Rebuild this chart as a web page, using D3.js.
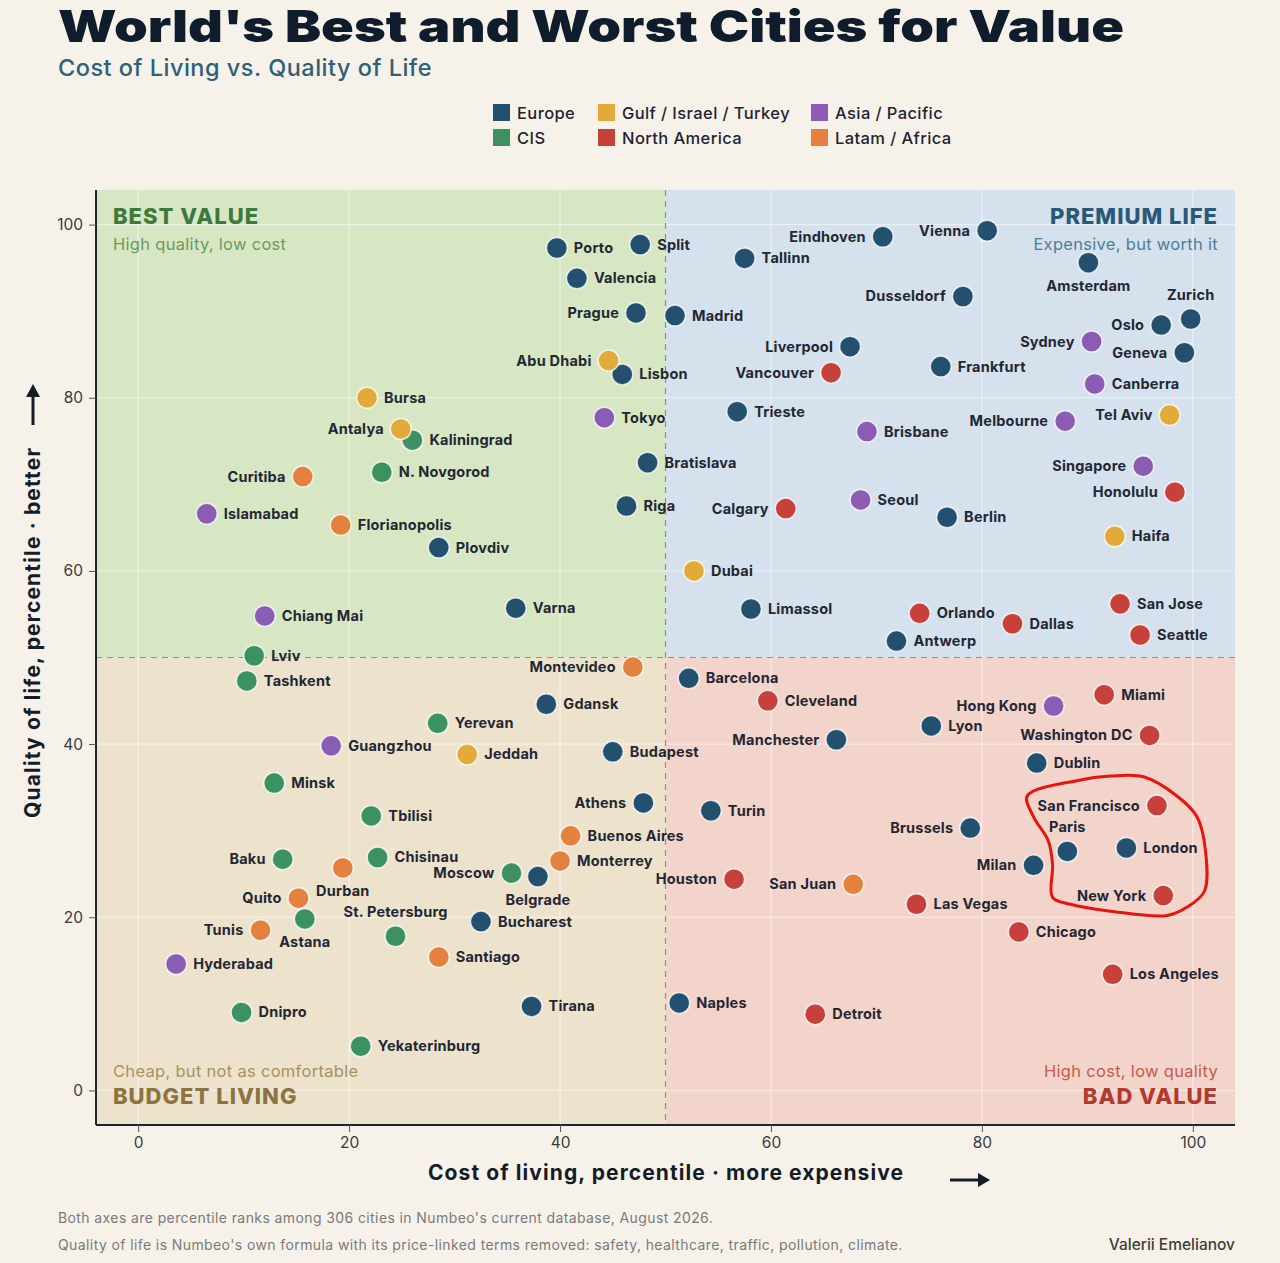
<!DOCTYPE html>
<html>
<head>
<meta charset="utf-8">
<title>World's Best and Worst Cities for Value</title>
<style>
  body { margin: 0; background: #f6f2ea; }
  svg { display: block; font-family: Inter, "Open Sans", sans-serif; }
</style>
</head>
<body>
<svg id="chart" width="1280" height="1263"></svg>
<script src="https://d3js.org/d3.v7.min.js"></script>
<script>
// --- data: [city, cost of living percentile, quality of life percentile]
const europe = [
  ["Porto", 39.7, 97.3], ["Split", 47.6, 97.7], ["Valencia", 41.6, 93.8],
  ["Prague", 47.2, 89.8], ["Madrid", 50.9, 89.5], ["Lisbon", 45.9, 82.7],
  ["Bratislava", 48.3, 72.5], ["Riga", 46.3, 67.5], ["Plovdiv", 28.5, 62.7],
  ["Varna", 35.8, 55.7], ["Eindhoven", 70.6, 98.6], ["Vienna", 80.5, 99.3],
  ["Tallinn", 57.5, 96.1], ["Amsterdam", 90.1, 95.6], ["Dusseldorf", 78.2, 91.7],
  ["Zurich", 99.8, 89.1], ["Oslo", 97.0, 88.4], ["Geneva", 99.2, 85.2],
  ["Liverpool", 67.5, 85.9], ["Frankfurt", 76.1, 83.6], ["Trieste", 56.8, 78.4],
  ["Berlin", 76.7, 66.2], ["Limassol", 58.1, 55.6], ["Antwerp", 71.9, 51.9],
  ["Barcelona", 52.2, 47.6], ["Manchester", 66.2, 40.5], ["Lyon", 75.2, 42.1],
  ["Dublin", 85.2, 37.8], ["Turin", 54.3, 32.3], ["Brussels", 78.9, 30.3],
  ["Paris", 88.1, 27.6], ["London", 93.7, 28.0], ["Milan", 84.9, 26.0],
  ["Naples", 51.3, 10.1], ["Gdansk", 38.7, 44.6], ["Budapest", 45.0, 39.1],
  ["Athens", 47.9, 33.2], ["Belgrade", 37.9, 24.7], ["Bucharest", 32.5, 19.5],
  ["Tirana", 37.3, 9.7]
];
const gulf = [
  ["Abu Dhabi", 44.6, 84.3], ["Bursa", 21.7, 80.0], ["Antalya", 24.9, 76.4],
  ["Dubai", 52.7, 60.0], ["Tel Aviv", 97.8, 78.0], ["Haifa", 92.6, 64.0],
  ["Jeddah", 31.2, 38.8]
];
const asia = [
  ["Tokyo", 44.2, 77.7], ["Islamabad", 6.5, 66.6], ["Chiang Mai", 12.0, 54.8],
  ["Guangzhou", 18.3, 39.8], ["Hyderabad", 3.6, 14.6], ["Brisbane", 69.1, 76.1],
  ["Seoul", 68.5, 68.2], ["Sydney", 90.4, 86.5], ["Canberra", 90.7, 81.6],
  ["Melbourne", 87.9, 77.3], ["Singapore", 95.3, 72.1], ["Hong Kong", 86.8, 44.4]
];
const cis = [
  ["Kaliningrad", 26.0, 75.1], ["N. Novgorod", 23.1, 71.4], ["Lviv", 11.0, 50.2],
  ["Tashkent", 10.3, 47.3], ["Yerevan", 28.4, 42.4], ["Minsk", 12.9, 35.5],
  ["Tbilisi", 22.1, 31.7], ["Baku", 13.7, 26.7], ["Chisinau", 22.7, 26.9],
  ["Moscow", 35.4, 25.1], ["Astana", 15.8, 19.8], ["St. Petersburg", 24.4, 17.8],
  ["Dnipro", 9.8, 9.0], ["Yekaterinburg", 21.1, 5.1]
];
const northAmerica = [
  ["Vancouver", 65.7, 82.9], ["Calgary", 61.4, 67.2], ["Orlando", 74.1, 55.1],
  ["Dallas", 82.9, 53.9], ["San Jose", 93.1, 56.2], ["Seattle", 95.0, 52.6],
  ["Honolulu", 98.3, 69.1], ["Cleveland", 59.7, 45.0], ["Miami", 91.6, 45.7],
  ["Washington DC", 95.9, 41.0], ["San Francisco", 96.6, 32.9], ["New York", 97.2, 22.5],
  ["Houston", 56.5, 24.4], ["Las Vegas", 73.8, 21.5], ["Chicago", 83.5, 18.3],
  ["Los Angeles", 92.4, 13.4], ["Detroit", 64.2, 8.8]
];
const latam = [
  ["Curitiba", 15.6, 70.9], ["Florianopolis", 19.2, 65.3], ["Montevideo", 46.9, 48.9],
  ["Buenos Aires", 41.0, 29.4], ["Monterrey", 40.0, 26.5], ["Durban", 19.4, 25.7],
  ["Quito", 15.2, 22.2], ["Tunis", 11.6, 18.5], ["Santiago", 28.5, 15.4],
  ["San Juan", 67.8, 23.8]
];

const regions = ["Europe", "CIS", "Gulf / Israel / Turkey", "North America", "Asia / Pacific", "Latam / Africa"];
const regionColors = ["#22506e", "#3b9160", "#e2aa38", "#c8403a", "#8a5cb3", "#e4813f"];
const ticks = [0, 20, 40, 60, 80, 100];

// hand-drawn highlight loop (data units)
const highlight = [
  [84.3, 34.0], [89.1, 35.8], [92.2, 36.3], [95.4, 36.2], [98.5, 34.0], [100.4, 31.6],
  [101.2, 27.7], [101.1, 23.0], [99.5, 21.2], [97.6, 20.2], [92.2, 20.7], [88.4, 21.5],
  [86.7, 22.3], [86.7, 26.1], [86.3, 28.8], [84.9, 31.6]
];

// label placement: default right
const labelSide = {
  left: ["Prague", "Abu Dhabi", "Antalya", "Curitiba", "Eindhoven", "Vienna", "Dusseldorf",
    "Liverpool", "Vancouver", "Calgary", "Sydney", "Oslo", "Geneva", "Melbourne", "Tel Aviv",
    "Singapore", "Honolulu", "Montevideo", "Athens", "Baku", "Quito", "Tunis", "Moscow",
    "Manchester", "Hong Kong", "Washington DC", "Brussels", "Milan", "San Francisco",
    "New York", "Houston", "San Juan"],
  top: ["Zurich", "Paris", "St. Petersburg"],
  bottom: ["Amsterdam", "Durban", "Astana", "Belgrade"]
};

const color = d3.scaleOrdinal().domain(regions).range(regionColors);

const cities = [].concat(
  europe.map(d => [...d, "Europe"]),
  cis.map(d => [...d, "CIS"]),
  gulf.map(d => [...d, "Gulf / Israel / Turkey"]),
  northAmerica.map(d => [...d, "North America"]),
  asia.map(d => [...d, "Asia / Pacific"]),
  latam.map(d => [...d, "Latam / Africa"])
).map(d => ({name: d[0], cost: d[1], qol: d[2], region: d[3]}));

const svg = d3.select("#chart");
const pLeft = 96, pRight = 1235, pTop = 190, pBottom = 1125;

const x = d3.scaleLinear().domain([-4, 104]).range([pLeft, pRight]);
const y = d3.scaleLinear().domain([-4, 104]).range([pBottom, pTop]);

// --- title block
svg.append("text")
    .attr("x", 58).attr("y", 42)
    .attr("font-size", 44).attr("font-weight", 900)
    .attr("fill", "#0f1c2b")
    .attr("textLength", 1066).attr("lengthAdjust", "spacingAndGlyphs")
    .text("World's Best and Worst Cities for Value");

svg.append("text")
    .attr("x", 58).attr("y", 76)
    .attr("font-size", 23.5).attr("font-weight", 500)
    .attr("letter-spacing", 0.5)
    .attr("fill", "#2f6079")
    .text("Cost of Living vs. Quality of Life");

// --- legend (3 columns x 2 rows)
const legendCols = [493, 598, 811];
const legend = svg.append("g");
regions.forEach((r, i) => {
  const col = Math.floor(i / 2), row = i % 2;
  const g = legend.append("g")
      .attr("transform", `translate(${legendCols[col]},${104 + row * 25})`);
  g.append("rect").attr("width", 17).attr("height", 17).attr("fill", color(r));
  g.append("text")
      .attr("x", 24).attr("y", 9).attr("dy", "0.35em")
      .attr("font-size", 16.5).attr("font-weight", 500).attr("fill", "#1f2430")
      .attr("letter-spacing", 0.4)
      .text(r);
});

// --- quadrant backgrounds
const quads = [
  {x0: -4, x1: 50, y0: 50, y1: 104, fill: "#d7e7c4"},
  {x0: 50, x1: 104, y0: 50, y1: 104, fill: "#d5e1ec"},
  {x0: -4, x1: 50, y0: -4, y1: 50, fill: "#ede3cd"},
  {x0: 50, x1: 104, y0: -4, y1: 50, fill: "#f3d4cb"}
];
svg.append("g").selectAll("rect")
  .data(quads)
  .join("rect")
    .attr("x", d => x(d.x0)).attr("y", d => y(d.y1))
    .attr("width", d => x(d.x1) - x(d.x0))
    .attr("height", d => y(d.y0) - y(d.y1))
    .attr("fill", d => d.fill);

// grid
const grid = svg.append("g").attr("stroke", "#ffffff").attr("stroke-opacity", 0.6).attr("stroke-width", 1);
grid.selectAll(".gx").data(ticks).join("line").attr("class", "gx")
    .attr("x1", d => x(d)).attr("x2", d => x(d)).attr("y1", pTop).attr("y2", pBottom);
grid.selectAll(".gy").data(ticks).join("line").attr("class", "gy")
    .attr("y1", d => y(d)).attr("y2", d => y(d)).attr("x1", pLeft).attr("x2", pRight);

// midlines
svg.append("line")
    .attr("x1", x(50)).attr("x2", x(50)).attr("y1", pTop).attr("y2", pBottom)
    .attr("stroke", "#8f8f8f").attr("stroke-width", 1.2).attr("stroke-dasharray", "6,5");
svg.append("line")
    .attr("y1", y(50)).attr("y2", y(50)).attr("x1", pLeft).attr("x2", pRight)
    .attr("stroke", "#8f8f8f").attr("stroke-width", 1.2).attr("stroke-dasharray", "6,5");

// --- quadrant captions
const capG = svg.append("g");
function caption(xp, yp, anchor, txt, size, weight, fill, spacing) {
  capG.append("text")
      .attr("x", xp).attr("y", yp).attr("text-anchor", anchor)
      .attr("font-size", size).attr("font-weight", weight).attr("fill", fill)
      .attr("letter-spacing", spacing)
      .text(txt);
}
caption(113, 224, "start", "BEST VALUE", 22, 800, "#3e7a3c", 1);
caption(113, 250, "start", "High quality, low cost", 16.5, 400, "#6c9a5e", 0.3);
caption(1218, 224, "end", "PREMIUM LIFE", 22, 800, "#2a5877", 1);
caption(1218, 250, "end", "Expensive, but worth it", 16.5, 400, "#4f7d9b", 0.3);
caption(113, 1077, "start", "Cheap, but not as comfortable", 16.5, 400, "#a8925f", 0.3);
caption(113, 1104, "start", "BUDGET LIVING", 22, 800, "#8c7442", 1);
caption(1218, 1077, "end", "High cost, low quality", 16.5, 400, "#c75a4c", 0.3);
caption(1218, 1104, "end", "BAD VALUE", 22, 800, "#b23b2f", 1);

// --- axes
const xAxis = svg.append("g")
    .attr("transform", `translate(0,${pBottom})`)
    .call(d3.axisBottom(x).tickValues(ticks).tickSize(7).tickPadding(5));
const yAxis = svg.append("g")
    .attr("transform", `translate(${pLeft},0)`)
    .call(d3.axisLeft(y).tickValues(ticks).tickSize(7).tickPadding(6));
[xAxis, yAxis].forEach(a => {
  a.select(".domain").attr("stroke", "#1f2430").attr("stroke-width", 2);
  a.selectAll(".tick line").attr("stroke", "#555");
  a.selectAll(".tick text")
      .attr("font-family", "Inter, sans-serif")
      .attr("font-size", 15.5).attr("fill", "#3a3a3a");
});
xAxis.select(".domain").attr("d", `M${pLeft},0H${pRight}`);
yAxis.select(".domain").attr("d", `M0,${pTop}V${pBottom}`);

// axis titles
svg.append("text")
    .attr("x", 428).attr("y", 1180)
    .attr("font-size", 21).attr("font-weight", 700).attr("fill", "#141c28")
    .attr("textLength", 475).attr("lengthAdjust", "spacing")
    .text("Cost of living, percentile  ·  more expensive");
svg.append("path")
    .attr("d", "M950,1180H980")
    .attr("stroke", "#141c28").attr("stroke-width", 3);
svg.append("path")
    .attr("d", "M978,1173L990,1180L978,1187Z").attr("fill", "#141c28");

svg.append("text")
    .attr("transform", "translate(40,818) rotate(-90)")
    .attr("font-size", 21).attr("font-weight", 700).attr("fill", "#141c28")
    .attr("textLength", 370).attr("lengthAdjust", "spacing")
    .text("Quality of life, percentile  ·  better");
svg.append("path")
    .attr("d", "M33,425V395")
    .attr("stroke", "#141c28").attr("stroke-width", 3);
svg.append("path")
    .attr("d", "M26,397L33,384L40,397Z").attr("fill", "#141c28");

// --- points
const side = name =>
  labelSide.left.includes(name) ? "left" :
  labelSide.top.includes(name) ? "top" :
  labelSide.bottom.includes(name) ? "bottom" : "right";

const pts = svg.append("g").selectAll("g")
  .data(cities)
  .join("g")
    .attr("transform", d => `translate(${x(d.cost)},${y(d.qol)})`);

pts.append("circle")
    .attr("r", 10.5)
    .attr("fill", d => color(d.region))
    .attr("stroke", "#ffffff").attr("stroke-opacity", 0.75).attr("stroke-width", 1.5);

pts.append("text")
    .attr("font-size", 14.5).attr("font-weight", 700).attr("fill", "#232733")
    .attr("letter-spacing", 0.2)
    .attr("text-anchor", d => ({left: "end", right: "start"}[side(d.name)] || "middle"))
    .attr("x", d => ({left: -17, right: 17}[side(d.name)] || 0))
    .attr("y", d => ({top: -19, bottom: 28}[side(d.name)] || 5))
    .text(d => d.name);

// --- highlight annotation
svg.append("path")
    .datum(highlight)
    .attr("d", d3.line().x(d => x(d[0])).y(d => y(d[1])).curve(d3.curveCatmullRomClosed))
    .attr("fill", "none").attr("stroke", "#e8140e").attr("stroke-width", 3);

// --- footnotes
svg.append("text")
    .attr("x", 58).attr("y", 1223)
    .attr("font-size", 14).attr("fill", "#7a7a7a").attr("letter-spacing", 0.4)
    .text("Both axes are percentile ranks among 306 cities in Numbeo's current database, August 2026.");
svg.append("text")
    .attr("x", 58).attr("y", 1250)
    .attr("font-size", 14).attr("fill", "#7a7a7a").attr("letter-spacing", 0.4)
    .text("Quality of life is Numbeo's own formula with its price-linked terms removed: safety, healthcare, traffic, pollution, climate.");
svg.append("text")
    .attr("x", 1235).attr("y", 1250).attr("text-anchor", "end")
    .attr("font-size", 15.5).attr("font-weight", 500).attr("fill", "#3d3d3d")
    .text("Valerii Emelianov");
</script>
</body>
</html>
